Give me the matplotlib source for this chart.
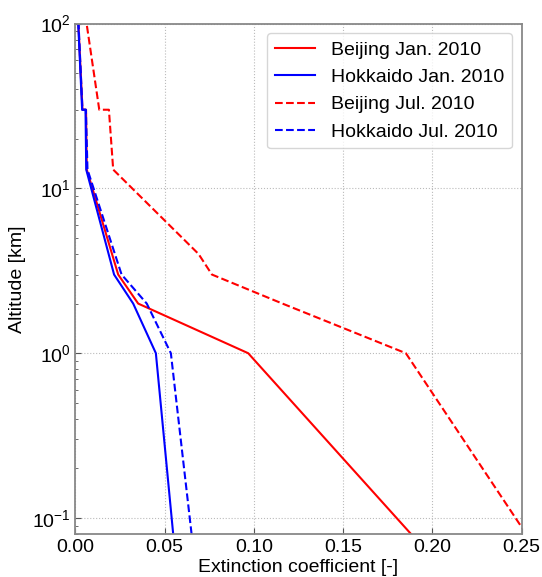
import numpy as np
import matplotlib
matplotlib.use('Agg')
import matplotlib.pyplot as plt

plt.rcParams['font.family'] = ['Liberation Sans', 'DejaVu Sans']
plt.rcParams['mathtext.default'] = 'regular'

# altitude [km] and extinction coefficient [-]
alt_jan = [0.08, 1, 2, 3, 13, 30, 30, 100]
beijing_jan = [0.188, 0.0968, 0.0352, 0.024, 0.0064, 0.006, 0.0040, 0.0017]
hokkaido_jan = [0.0548, 0.0451, 0.0324, 0.0217, 0.0061, 0.0057, 0.0038, 0.0016]

alt_bj_jul = [0.08, 1, 2, 3, 4, 13, 30, 30, 100]
beijing_jul = [0.2525, 0.1851, 0.116, 0.0765, 0.069, 0.0212, 0.0188, 0.0134, 0.0063]
alt_hk_jul = [0.08, 1, 2, 3, 13, 30, 30, 100]
hokkaido_jul = [0.0651, 0.0535, 0.040, 0.0259, 0.0068, 0.0059, 0.0040, 0.0018]

fig = plt.figure(figsize=(5.42, 5.77), dpi=100)
ax = fig.add_axes([0.139, 0.0745, 0.8236, 0.8847])

ax.plot(beijing_jan, alt_jan, color='#ff0000', lw=1.5, label='Beijing Jan. 2010')
ax.plot(hokkaido_jan, alt_jan, color='#0000ff', lw=1.5, label='Hokkaido Jan. 2010')
ax.plot(beijing_jul, alt_bj_jul, color='#ff0000', lw=1.5, ls='--', label='Beijing Jul. 2010')
ax.plot(hokkaido_jul, alt_hk_jul, color='#0000ff', lw=1.5, ls='--', label='Hokkaido Jul. 2010')

ax.set_yscale('log')
ax.set_xlim(0, 0.25)
ax.set_ylim(0.08, 100)
ax.set_xticks(np.arange(0, 0.251, 0.05))
ax.set_xticklabels(['%.2f' % v for v in np.arange(0, 0.251, 0.05)])

ax.grid(True, which='major', ls=':', color='#bbbbbb', lw=0.8)
ax.tick_params(which='both', direction='in', labelsize=14, colors='#555555', labelcolor='black')
ax.tick_params(which='major', length=4)
ax.tick_params(which='minor', length=2.5)
for s in ax.spines.values():
    s.set_color('#888888')
    s.set_linewidth(1.3)

ax.set_xlabel('Extinction coefficient [-]', fontsize=14, labelpad=2)
ax.set_ylabel('Altitude [km]', fontsize=14, labelpad=4)

leg = ax.legend(loc='upper right', fontsize=14, handlelength=2.1)
leg.get_frame().set_edgecolor('#cccccc')

fig.savefig('out.png', dpi=100)
